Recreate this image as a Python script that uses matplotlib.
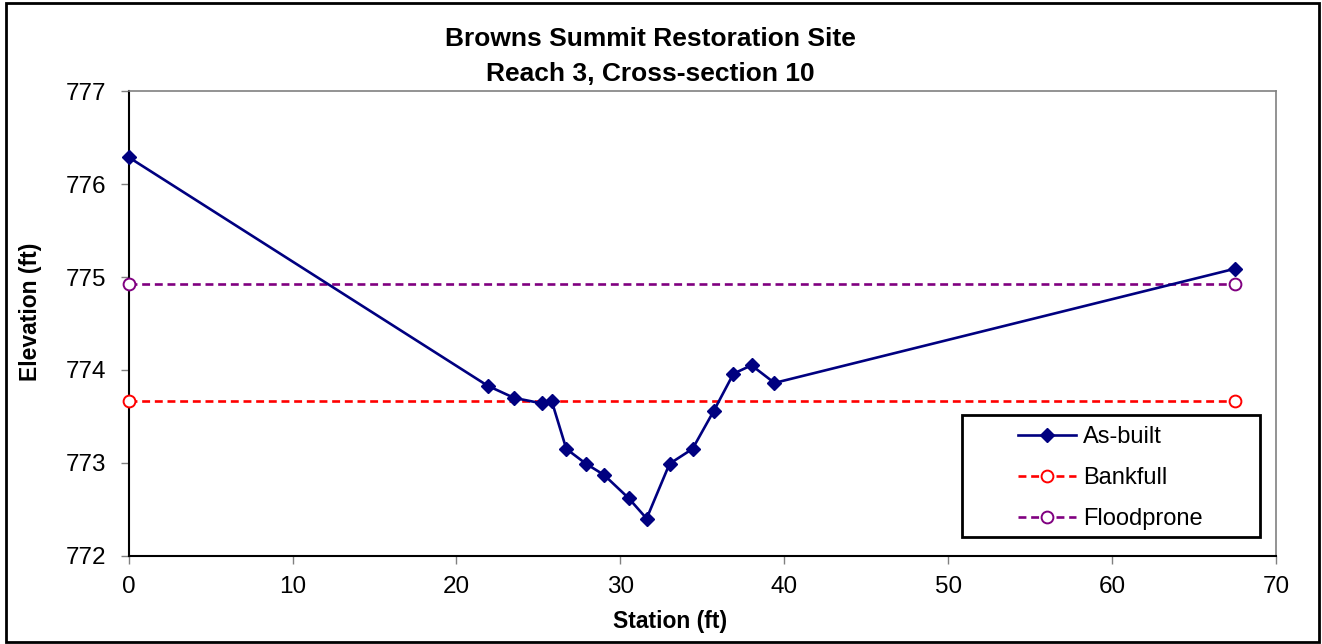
import matplotlib
matplotlib.use("Agg")
import matplotlib.pyplot as plt
from matplotlib.patches import Rectangle

# ---------------------------------------------------------------------------
# Data (read off the reference cross-section)
# ---------------------------------------------------------------------------
station = [0.0, 21.9, 23.5, 25.2, 25.8, 26.7, 27.9, 29.0, 30.5, 31.6,
           33.0, 34.4, 35.7, 36.9, 38.0, 39.4, 67.5]
elevation = [776.29, 773.83, 773.70, 773.64, 773.67, 773.15, 772.99, 772.87,
             772.62, 772.40, 772.99, 773.15, 773.56, 773.96, 774.05, 773.86,
             775.09]

bankfull_x = [0.0, 67.5]
bankfull_y = [773.67, 773.67]

floodprone_x = [0.0, 67.5]
floodprone_y = [774.93, 774.93]

x_ticks = [0, 10, 20, 30, 40, 50, 60, 70]
y_ticks = [772, 773, 774, 775, 776, 777]

# ---------------------------------------------------------------------------
# Style
# ---------------------------------------------------------------------------
FONT = ["Liberation Sans", "DejaVu Sans"]
plt.rcParams["font.family"] = FONT

NAVY   = "#000080"
RED    = "#FF0000"
PURPLE = "#800080"
GRID_C = "#808080"

FS_TITLE  = 19
FS_TICK   = 17.5
FS_LABEL  = 16.5
FS_LEGEND = 17

W, H = 1322, 644
fig = plt.figure(figsize=(W / 100, H / 100), dpi=100)

# plot area placed like the Excel original
ax = fig.add_axes([0.09735, 0.13711, 0.86785, 0.72112])

ax.plot(station, elevation, color=NAVY, lw=1.9, marker="D", markersize=7.5,
        markerfacecolor=NAVY, markeredgecolor=NAVY, markeredgewidth=1,
        label="As-built", clip_on=False, zorder=4)
ax.plot(bankfull_x, bankfull_y, color=RED, lw=1.9, ls=(0, (3, 1.8)),
        marker="o", markersize=8.5, markerfacecolor="white",
        markeredgecolor=RED, markeredgewidth=1.4, label="Bankfull",
        clip_on=False, zorder=3)
ax.plot(floodprone_x, floodprone_y, color=PURPLE, lw=1.9, ls=(0, (3, 1.8)),
        marker="o", markersize=8.5, markerfacecolor="white",
        markeredgecolor=PURPLE, markeredgewidth=1.4, label="Floodprone",
        clip_on=False, zorder=3)

ax.set_xlim(0, 70)
ax.set_ylim(772, 777)
ax.set_xticks(x_ticks)
ax.set_yticks(y_ticks)
ax.tick_params(axis="both", direction="out", length=6, width=1,
               color=GRID_C, labelsize=FS_TICK, labelcolor="black")
ax.tick_params(axis="y", pad=10)
ax.tick_params(axis="x", pad=8.5)

for side in ("left", "bottom"):
    ax.spines[side].set_color("black")
    ax.spines[side].set_linewidth(1.5)
for side in ("top", "right"):
    ax.spines[side].set_color(GRID_C)
    ax.spines[side].set_linewidth(1.2)

# Titles and axis labels
fig.text(650 / W, 1 - 46 / H, "Browns Summit Restoration Site",
         ha="center", va="baseline", fontsize=FS_TITLE, fontweight="bold")
fig.text(650 / W, 1 - 81 / H, "Reach 3, Cross-section 10",
         ha="center", va="baseline", fontsize=FS_TITLE, fontweight="bold")
fig.text(670 / W, 1 - 628 / H, "Station (ft)",
         ha="center", va="baseline", fontsize=FS_LABEL, fontweight="bold")
fig.text(31 / W, 1 - 312 / H, "Elevation (ft)", rotation=90,
         ha="center", va="center", fontsize=FS_LABEL, fontweight="bold")

# Legend: entries from matplotlib, box drawn separately (Excel-like spacing)
leg = ax.legend(loc="upper left", bbox_to_anchor=(1018 / W, 1 - 426 / H),
                bbox_transform=fig.transFigure, frameon=False,
                fontsize=FS_LEGEND, handlelength=2.45, handletextpad=0.3,
                labelspacing=0.81, borderpad=0, borderaxespad=0)
fig.add_artist(Rectangle((962 / W, 1 - 537 / H), (1260 - 962) / W,
                         (537 - 415) / H, transform=fig.transFigure,
                         facecolor="none", edgecolor="black", lw=2,
                         zorder=5))

# outer chart border
fig.add_artist(Rectangle((6 / W, 2 / H), (1319 - 6) / W, (641 - 2) / H,
                         transform=fig.transFigure, facecolor="none",
                         edgecolor="black", lw=2))

fig.savefig("out.png", dpi=100)
